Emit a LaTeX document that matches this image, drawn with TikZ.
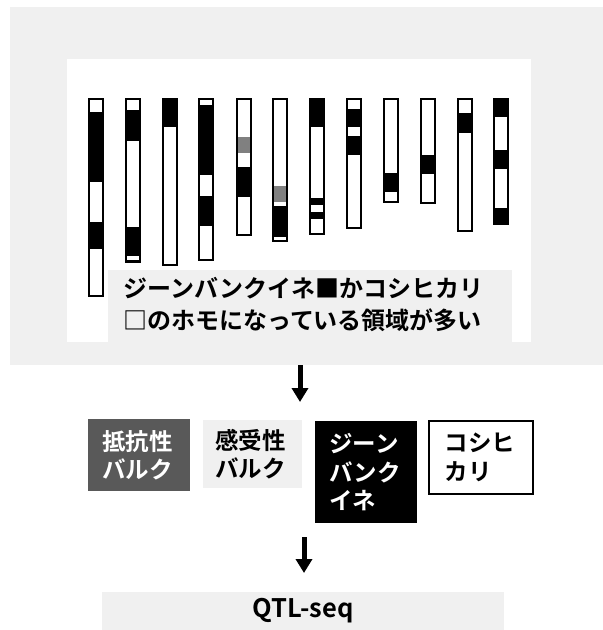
\documentclass[tikz,border=0pt]{standalone}
\usepackage{fontspec}
\setmainfont{Noto Sans CJK JP}[UprightFont=* Medium, BoldFont=* Bold]
\usetikzlibrary{arrows.meta}

\definecolor{panelgray}{RGB}{240,240,240}
\definecolor{darkbulk}{RGB}{89,89,89}
\definecolor{midgray}{RGB}{128,128,128}

% one chromosome: #1 left x, #2 top y, #3 bottom y, #4 coloured segments top/bottom/colour
\newcommand\drawchrom[4]{%
  \fill[white] (#1,#2) rectangle (#1+16,#3);
  \foreach \segtop/\segbot/\segcol in {#4} {\fill[\segcol] (#1,\segtop) rectangle (#1+16,\segbot);}
  \draw[line width=2pt] (#1+1,#2+1) rectangle (#1+15,#3-1);
}

\tikzset{
  jp/.style={font=\bfseries\fontsize{23.5}{28.5}\selectfont},
  bulk/.style={jp, anchor=north west, align=left, inner ysep=0pt},
  flowarrow/.style={line width=5pt, -{Triangle[width=16pt,length=14pt]}},
}

\begin{document}
\begin{tikzpicture}[x=1pt,y=-1pt]
\useasboundingbox (0,0) rectangle (603,630);

% upper panel with the chromosome sketch
\node[fill=panelgray, anchor=north west, minimum width=593pt, minimum height=358pt, inner sep=0pt] (panel) at (10,7) {};
\fill[white] (67,59) rectangle (531,342);

\drawchrom{88}{98}{297}{112/182/black, 222/249/black}
\drawchrom{125}{98}{263}{110/141/black, 227/256/black, 260/263/black}
\drawchrom{162}{98}{266}{98/127/black}
\drawchrom{198}{98}{261}{105/175/black, 196/226/black}
\drawchrom{236}{98}{236}{137/153/midgray, 167/197/black}
\drawchrom{272}{98}{242}{186/202/midgray, 206/237/black}
\drawchrom{309}{98}{235}{98/127/black, 198/205/black, 212/219/black}
\drawchrom{346}{98}{229}{109/127/black, 136/155/black}
\drawchrom{383}{98}{203}{173/192/black}
\drawchrom{420}{98}{204}{155/174/black}
\drawchrom{457}{98}{232}{113/133/black}
\drawchrom{493}{98}{225}{98/117/black, 150/169/black, 208/225/black}

% caption inside the panel
\node[fill=panelgray, anchor=north west, minimum width=404pt, minimum height=72pt, inner sep=0pt] (capbox) at (108,270) {};
\node[anchor=west, align=left, inner sep=0pt, font=\bfseries\fontsize{24}{32}\selectfont] (caption) at (123,304)
  {ジーンバンクイネ■かコシヒカリ\\□のホモになっている領域が多い};

% arrow to the four groups
\coordinate (a1end) at (300,402);
\draw[flowarrow] (panel.south -| a1end) -- (a1end);

% the four groups
\node[bulk, fill=darkbulk, text=white, text width=74pt, inner xsep=14pt, minimum height=72pt] (resist) at (88,419) {抵抗性\\バルク};
\node[bulk, fill=panelgray, text width=75pt, inner xsep=12pt, minimum height=68pt] (suscept) at (203,420) {感受性\\バルク};
\node[bulk, fill=black, text=white, text width=74pt, inner xsep=14pt, minimum height=102pt] (genebank) at (315,421) {ジーン\\バンク\\イネ};
\node[bulk, draw=black, line width=1.5pt, fill=white, text width=72pt, inner xsep=16pt, minimum height=73pt] (koshi) at (428,420) {コシヒ\\カリ};

% arrow to QTL-seq
\coordinate (a2start) at (304,537);
\coordinate (a2end) at (304,573);
\draw[flowarrow] (a2start) -- (a2end);

\node[fill=panelgray, anchor=north, minimum width=402pt, inner ysep=0pt, text height=25pt, text depth=13pt, font=\bfseries\fontsize{25.5}{30}\selectfont] (qtl) at (303,592) {QTL-seq};
\end{tikzpicture}
\end{document}
